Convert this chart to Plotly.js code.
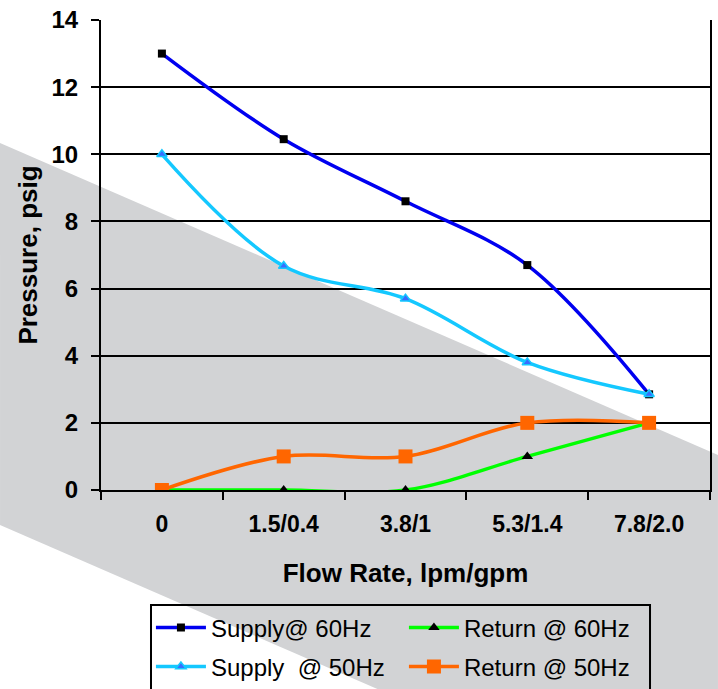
<!DOCTYPE html>
<html>
<head>
<meta charset="utf-8">
<script src="https://cdn.plot.ly/plotly-3.0.1.min.js"></script>
<style>
html,body{margin:0;padding:0;background:#fff;}
#chart{width:718px;height:689px;}
</style>
</head>
<body>
<div id="chart"></div>
<script>
var categories = ["0", "1.5/0.4", "3.8/1", "5.3/1.4", "7.8/2.0"];
var supply60 = [13.0, 10.45, 8.6, 6.7, 2.85];
var supply50 = [10.0, 6.67, 5.7, 3.8, 2.85];
var return60 = [0, 0, 0, 1, 2];
var return50 = [0, 1, 1, 2, 2];
var yTicks = [0, 2, 4, 6, 8, 10, 12, 14];

var FONT = "Liberation Sans, Arial, sans-serif";

var traces = [
  {
    name: "Supply@ 60Hz", x: categories, y: supply60, type: "scatter", mode: "lines+markers",
    legend: "legend",
    line: {color: "#0000f0", width: 3.5, shape: "spline", smoothing: 1},
    marker: {symbol: "square", size: 8, color: "#000000"}
  },
  {
    name: "Return @ 60Hz", x: categories, y: return60, type: "scatter", mode: "lines+markers",
    legend: "legend",
    line: {color: "#00ff00", width: 3.5, shape: "spline", smoothing: 1},
    marker: {symbol: "triangle-up", size: 10, color: "#000000"}
  },
  {
    name: "Supply  @ 50Hz", x: categories, y: supply50, type: "scatter", mode: "lines+markers",
    legend: "legend2",
    line: {color: "#14c8ff", width: 3.5, shape: "spline", smoothing: 1},
    marker: {symbol: "triangle-up", size: 9, color: "#3a6cff", line: {color: "#14c8ff", width: 1.5}}
  },
  {
    name: "Return @ 50Hz", x: categories, y: return50, type: "scatter", mode: "lines+markers",
    legend: "legend2",
    line: {color: "#ff6600", width: 3.5, shape: "spline", smoothing: 1},
    marker: {symbol: "square", size: 14, color: "#ff6600"}
  }
];

function legendCfg(yPos) {
  return {
    orientation: "h", x: 0.082, xanchor: "left", y: yPos, yanchor: "middle",
    bgcolor: "rgba(0,0,0,0)", borderwidth: 0,
    font: {family: FONT, size: 24, color: "#000"},
    entrywidth: 188, itemwidth: 50, traceorder: "normal"
  };
}

var layout = {
  width: 718, height: 689,
  margin: {l: 101, r: 8, t: 20, b: 199, autoexpand: false},
  paper_bgcolor: "rgba(0,0,0,0)",
  plot_bgcolor: "rgba(0,0,0,0)",
  font: {family: FONT, color: "#000"},
  showlegend: true,
  shapes: [
    {
      type: "path", xref: "paper", yref: "paper", layer: "below",
      path: "M -0.1658,0.7383 L 1.0131,0.0745 L 1.0131,-0.7383 L -0.1658,-0.0745 Z",
      fillcolor: "#d2d3d5", line: {width: 0}
    },
    {
      type: "rect", xref: "paper", yref: "paper", layer: "above",
      x0: 0.0821, x1: 0.9015, y0: -0.2447, y1: -0.47,
      fillcolor: "rgba(0,0,0,0)", line: {color: "#000", width: 2}
    }
  ],
  xaxis: {
    type: "category", range: [-0.5, 4.5],
    showline: true, linecolor: "#000", linewidth: 2,
    ticks: "outside", tickson: "boundaries", ticklen: 8, tickwidth: 2, tickcolor: "#000",
    ticklabelstandoff: 12,
    showgrid: false, zeroline: false,
    tickfont: {family: FONT, size: 23, weight: "bold", color: "#000"},
    title: {text: "Flow Rate, lpm/gpm", font: {family: FONT, size: 26, weight: "bold", color: "#000"}, standoff: 28}
  },
  yaxis: {
    range: [0, 14], tickvals: yTicks, ticktext: yTicks.map(String),
    showline: true, linecolor: "#000", linewidth: 2, mirror: true,
    ticks: "outside", ticklen: 8, tickwidth: 2, tickcolor: "#000",
    ticklabelstandoff: 8,
    showgrid: true, gridcolor: "#000", gridwidth: 2, zeroline: false,
    tickfont: {family: FONT, size: 24, weight: "bold", color: "#000"},
    title: {text: "Pressure, psig", font: {family: FONT, size: 26, weight: "bold", color: "#000"}, standoff: 6}
  },
  legend: legendCfg(-0.2936),
  legend2: legendCfg(-0.3766)
};

Plotly.newPlot("chart", traces, layout, {displayModeBar: false, staticPlot: true});
</script>
</body>
</html>
